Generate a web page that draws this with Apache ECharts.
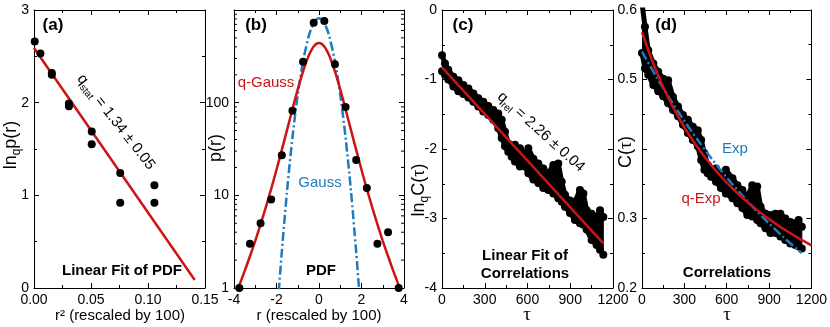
<!DOCTYPE html>
<html><head><meta charset="utf-8">
<script src="https://cdn.jsdelivr.net/npm/echarts@6/dist/echarts.min.js"></script>
<style>html,body{margin:0;padding:0;background:#fff}#c{width:830px;height:327px}</style>
</head><body><div id="c"></div>
<script>
// ---------- data ----------
// (a) linear fit of PDF
const aR2   = [0.000625, 0.005625, 0.015625, 0.015625, 0.030625, 0.030625, 0.050625, 0.050625, 0.075625, 0.075625, 0.105625, 0.105625];
const aLnqP = [2.66, 2.53, 2.32, 2.30, 1.99, 1.96, 1.69, 1.55, 1.24, 0.92, 1.11, 0.92];
const aFitX = [0, 0.141];
const aFitY = [2.59, 0.086];
// (b) PDF
const bR = [-3.75, -3.25, -2.75, -2.25, -1.75, -1.25, -0.75, -0.25, 0.25, 0.75, 1.25, 1.75, 2.25, 2.75, 3.25, 3.75];
const bP = [1, 3, 5, 9, 27, 82, 277, 729, 760, 259, 90, 24, 12, 3, 4, 1];
const bQgR = [-3.9, -3.8, -3.5, -3.25, -3, -2.75, -2.5, -2.25, -2, -1.75, -1.5, -1.25, -1, -0.75, -0.5, -0.375, -0.25, -0.125, 0, 0.125, 0.25, 0.375, 0.5, 0.75, 1, 1.25, 1.5, 1.75, 2, 2.25, 2.5, 2.75, 3, 3.25, 3.5, 3.8, 3.9];
const bQgP = [0.875, 1.0, 1.52, 2.2, 3.23, 4.87, 7.48, 11.75, 18.9, 30.9, 51.1, 85, 139, 218, 316, 363, 403, 431, 441, 431, 403, 363, 316, 218, 139, 85, 51.1, 30.9, 18.9, 11.75, 7.48, 4.87, 3.23, 2.2, 1.52, 1.0, 0.875];
const bGR = [-1.95, -1.875, -1.75, -1.5, -1.25, -1, -0.75, -0.5, -0.375, -0.25, -0.125, 0, 0.125, 0.25, 0.375, 0.5, 0.75, 1, 1.25, 1.5, 1.75, 1.875, 1.95];
const bGP = [0.6, 1.04, 2.45, 11.4, 42, 122, 280, 506, 623, 722, 789, 813, 789, 722, 623, 506, 280, 122, 42, 11.4, 2.45, 1.04, 0.6];
const bMinorTicks = [2, 3, 4, 5, 6, 7, 8, 9, 20, 30, 40, 50, 60, 70, 80, 90, 200, 300, 400, 500, 600, 700, 800, 900];
// (c) linear fit of correlations (band of data: upper / lower envelope)
const cTau = [0, 21, 44, 80, 115, 150, 185, 220, 255, 290, 325, 360, 395, 419, 442, 465, 489, 512, 547, 582, 606, 641, 676, 711, 746, 781, 816, 840, 863, 898, 933, 968, 992, 1015, 1050, 1085, 1109, 1132];
const cTop = [-0.65, -0.77, -0.86, -0.96, -1.01, -1.08, -1.13, -1.20, -1.27, -1.32, -1.38, -1.44, -1.49, -1.58, -1.75, -1.92, -1.97, -1.94, -1.99, -2.06, -1.99, -2.14, -2.21, -2.28, -2.35, -2.23, -2.21, -2.47, -2.66, -2.74, -2.76, -2.59, -2.64, -2.88, -2.93, -2.98, -2.88, -2.98];
const cBot = [-0.88, -0.93, -1.00, -1.10, -1.17, -1.21, -1.26, -1.32, -1.39, -1.46, -1.51, -1.58, -1.70, -1.84, -1.96, -2.04, -2.11, -2.18, -2.25, -2.25, -2.35, -2.44, -2.49, -2.56, -2.59, -2.64, -2.71, -2.76, -2.83, -2.92, -3.02, -3.07, -3.09, -3.16, -3.31, -3.38, -3.45, -3.52];
const cFitX = [0, 1132];
const cFitY = [-0.825, -3.357];
// (d) correlations
const dTau = [0, 21, 44, 80, 115, 150, 185, 220, 255, 290, 325, 360, 395, 419, 442, 465, 489, 524, 559, 594, 641, 676, 711, 746, 781, 816, 840, 875, 910, 945, 980, 1015, 1050, 1085, 1109, 1132];
const dTop = [0.61, 0.576, 0.542, 0.523, 0.511, 0.501, 0.499, 0.475, 0.461, 0.449, 0.442, 0.432, 0.427, 0.413, 0.394, 0.377, 0.370, 0.372, 0.365, 0.370, 0.358, 0.348, 0.341, 0.331, 0.348, 0.346, 0.317, 0.307, 0.305, 0.307, 0.307, 0.300, 0.295, 0.293, 0.298, 0.288];
const dBot = [0.538, 0.516, 0.507, 0.492, 0.483, 0.476, 0.466, 0.456, 0.447, 0.435, 0.423, 0.413, 0.404, 0.384, 0.370, 0.365, 0.360, 0.353, 0.344, 0.336, 0.329, 0.322, 0.315, 0.305, 0.303, 0.298, 0.293, 0.286, 0.279, 0.279, 0.274, 0.269, 0.264, 0.262, 0.260, 0.257];
const dQexpTau = [0, 100, 200, 300, 400, 500, 600, 700, 800, 900, 1000, 1100, 1200];
const dQexpC   = [0.568, 0.5125, 0.468, 0.4313, 0.4006, 0.3744, 0.3517, 0.332, 0.3146, 0.2991, 0.2852, 0.2728, 0.2614];
const dExpTau = [0, 100, 200, 300, 400, 500, 600, 700, 800, 900, 1000, 1100, 1130];
const dExpC   = [0.540, 0.5045, 0.4713, 0.4403, 0.4114, 0.3843, 0.3590, 0.3354, 0.3134, 0.2928, 0.2735, 0.2555, 0.2504];

// ---------- styling ----------
const FONT = "'Liberation Sans', Arial, Helvetica, sans-serif";
const RED = '#cc1414';
const BLUE = '#1e7bbf';
const zip = (a, b) => a.map((v, i) => [v, b[i]]);

const grids = [
  {left: 34, top: 10, width: 171, height: 278},
  {left: 234, top: 10, width: 170, height: 278},
  {left: 442, top: 10, width: 171, height: 278},
  {left: 642, top: 10, width: 171, height: 278}
];

function ax(grid, position, cfg, secondary) {
  return Object.assign({
    type: 'value', gridIndex: grid, position: position,
    axisLine: {show: true, onZero: false, lineStyle: {color: '#000', width: 1}},
    axisTick: {show: true, inside: true, length: 5, lineStyle: {color: '#000', width: 1}},
    minorTick: {show: true, splitNumber: 2, length: 3, lineStyle: {color: '#000', width: 1}},
    splitLine: {show: false}, minorSplitLine: {show: false},
    axisLabel: {show: !secondary, color: '#000', fontSize: 14, fontFamily: FONT, margin: 5},
    axisPointer: {show: false}
  }, cfg);
}

const plain = v => String(v);
const xCfg = [
  {min: 0, max: 0.15, interval: 0.05, axisLabelFmt: v => v.toFixed(2)},
  {min: -4, max: 4, interval: 2, axisLabelFmt: plain},
  {min: 0, max: 1200, interval: 300, axisLabelFmt: plain},
  {min: 0, max: 1200, interval: 300, axisLabelFmt: plain}
];
const yCfg = [
  {min: 0, max: 3, interval: 1, axisLabelFmt: plain},
  {type: 'log', logBase: 10, min: 1, max: 1000, minorTick: {show: false}, axisLabelFmt: v => (v >= 1000 ? '' : String(v))},
  {min: -4, max: 0, interval: 1, axisLabelFmt: plain},
  {min: 0.2, max: 0.6, interval: 0.1, axisLabelFmt: v => (Math.abs(v - 0.4) < 1e-6 ? '' : v.toFixed(1))}
];

const xAxis = [], yAxis = [];
function build(cfgs, arr, pos1, pos2) {
  [false, true].forEach(sec => {
    cfgs.forEach((c, g) => {
      const cc = Object.assign({}, c);
      const fmt = cc.axisLabelFmt; delete cc.axisLabelFmt;
      const mt = cc.minorTick; delete cc.minorTick;
      const a = ax(g, sec ? pos2 : pos1, cc, sec);
      if (mt) a.minorTick = Object.assign({}, a.minorTick, mt);
      if (fmt) a.axisLabel.formatter = fmt;
      arr.push(a);
    });
  });
}
build(xCfg, xAxis, 'bottom', 'top');
build(yCfg, yAxis, 'left', 'right');

const dashDot = [9, 3, 2, 3];
const dot = {color: '#000', opacity: 1};

// band: filled polygon between lower and upper envelope, built through the axes' scales
function bandSeries(gi, tau, bot, top) {
  const segs = tau.slice(0, -1).map((t, i) => [t, bot[i], top[i], tau[i + 1], bot[i + 1], top[i + 1]]);
  return {
    type: 'custom', xAxisIndex: gi, yAxisIndex: gi, silent: true, z: 2,
    data: segs,
    renderItem: function (params, api) {
      const cs = params.coordSys;
      const p1 = api.coord([api.value(0), api.value(1)]);
      const p2 = api.coord([api.value(3), api.value(4)]);
      const p3 = api.coord([api.value(3), api.value(5)]);
      const p4 = api.coord([api.value(0), api.value(2)]);
      return {type: 'polygon', shape: {points: [p1, p2, p3, p4]},
              style: {fill: '#000', stroke: '#000', lineWidth: 1},
              clipPath: {type: 'rect', shape: {x: cs.x, y: cs.y, width: cs.width, height: cs.height}}};
    }
  };
}
function edgeSeries(gi, tau, vals) {
  return {type: 'line', xAxisIndex: gi, yAxisIndex: gi, data: zip(tau, vals),
    symbol: 'circle', symbolSize: 8, showAllSymbol: true, clip: true,
    itemStyle: dot, lineStyle: {color: '#000', width: 5}, z: 2};
}

const series = [
  // (a)
  {type: 'line', xAxisIndex: 0, yAxisIndex: 0, data: zip(aFitX, aFitY), symbol: 'none',
   lineStyle: {color: RED, width: 2.5}, z: 3},
  {type: 'scatter', xAxisIndex: 0, yAxisIndex: 0, data: zip(aR2, aLnqP), symbolSize: 8,
   itemStyle: dot, z: 4},
  // (b)
  {type: 'line', xAxisIndex: 1, yAxisIndex: 1, data: zip(bGR, bGP), symbol: 'none', smooth: 0.3,
   lineStyle: {color: BLUE, width: 2.5, type: dashDot}, z: 3},
  {type: 'line', xAxisIndex: 1, yAxisIndex: 1, data: zip(bQgR, bQgP), symbol: 'none', smooth: 0.3,
   lineStyle: {color: RED, width: 2.5}, z: 3},
  {type: 'scatter', xAxisIndex: 1, yAxisIndex: 1, data: zip(bR, bP), symbolSize: 8,
   itemStyle: dot, z: 4},
  {type: 'custom', xAxisIndex: 1, yAxisIndex: 1, silent: true, z: 6,
   data: bMinorTicks.map(v => [0, v]),
   renderItem: function (params, api) {
     const cs = params.coordSys;
     const y = api.coord([0, api.value(1)])[1];
     return {type: 'group', children: [
       {type: 'line', shape: {x1: cs.x, y1: y, x2: cs.x + 3, y2: y}, style: {stroke: '#000', lineWidth: 1}},
       {type: 'line', shape: {x1: cs.x + cs.width - 3, y1: y, x2: cs.x + cs.width, y2: y}, style: {stroke: '#000', lineWidth: 1}}
     ]};
   }},
  // (c)
  bandSeries(2, cTau, cBot, cTop),
  edgeSeries(2, cTau, cTop),
  edgeSeries(2, cTau, cBot),
  {type: 'line', xAxisIndex: 2, yAxisIndex: 2, data: zip(cFitX, cFitY), symbol: 'none',
   lineStyle: {color: RED, width: 2.5}, z: 3},
  // (d)
  bandSeries(3, dTau, dBot, dTop),
  edgeSeries(3, dTau, dTop),
  edgeSeries(3, dTau, dBot),
  {type: 'line', xAxisIndex: 3, yAxisIndex: 3, data: zip(dExpTau, dExpC), symbol: 'none', smooth: 0.3,
   lineStyle: {color: BLUE, width: 2.5, type: dashDot}, z: 3},
  {type: 'line', xAxisIndex: 3, yAxisIndex: 3, data: zip(dQexpTau, dQexpC), symbol: 'none', smooth: 0.3,
   lineStyle: {color: RED, width: 2.5}, z: 3}
];

// ---------- texts ----------
function rich(size, color) {
  return {
    m: {fontSize: size, fontFamily: FONT, fill: color, lineHeight: Math.round(size * 1.3), verticalAlign: 'middle'},
    s: {fontSize: Math.round(size * 0.66), fontFamily: FONT, fill: color, verticalAlign: 'bottom'},
    t: {fontSize: size, fontFamily: "'Liberation Serif', 'DejaVu Serif', serif", fill: color, verticalAlign: 'middle'}
  };
}
function rtext(x, y, text, size, rot, color) {
  return {type: 'text', x: x, y: y, rotation: rot || 0, z: 10,
    style: {text: text, rich: rich(size, color || '#000'), align: 'center', verticalAlign: 'middle'}};
}
function ptext(x, y, text, size, bold, color) {
  return {type: 'text', x: x, y: y, z: 10,
    style: {text: text, fontSize: size, fontWeight: bold ? 'bold' : 'normal', fontFamily: FONT,
            fill: color || '#000', align: 'center', verticalAlign: 'middle'}};
}
const deg = Math.PI / 180;
const graphic = [
  ptext(53, 25, '(a)', 17, true), ptext(256, 25, '(b)', 17, true),
  ptext(463, 25, '(c)', 17, true), ptext(666, 25, '(d)', 17, true),
  ptext(122, 271, 'Linear Fit of PDF', 15, true),
  ptext(321, 271, 'PDF', 15, true),
  ptext(525, 256, 'Linear Fit of', 15, true),
  ptext(525, 274, 'Correlations', 15, true),
  ptext(727, 273, 'Correlations', 15, true),
  ptext(266, 83, 'q-Gauss', 15, false, RED),
  ptext(320, 183, 'Gauss', 15, false, BLUE),
  ptext(735, 149, 'Exp', 15, false, BLUE),
  ptext(701, 199, 'q-Exp', 15, false, RED),
  rtext(116, 122, '{m|q}{s|stat}{m| = 1.34 ± 0.05}', 15, -52 * deg),
  rtext(541, 132, '{m|q}{s|rel}{m| = 2.26 ± 0.04}', 15, -42 * deg),
  // axis titles
  rtext(11, 145, '{m|ln}{s|q}{m|p(r)}', 18, 90 * deg),
  rtext(216, 148, '{m|p(r)}', 18, 90 * deg),
  rtext(419, 190, '{m|ln}{s|q}{m|C(}{t|τ}{m|)}', 18, 90 * deg),
  rtext(626, 152, '{m|C(}{t|τ}{m|)}', 18, 90 * deg),
  ptext(120, 316, 'r² (rescaled by 100)', 15),
  ptext(319, 316, 'r (rescaled by 100)', 15),
  rtext(527, 315, '{t|τ}', 19),
  rtext(727, 315, '{t|τ}', 19)
];

const chart = echarts.init(document.getElementById('c'), null, {renderer: 'canvas'});
chart.setOption({
  animation: false,
  backgroundColor: '#fff',
  grid: grids,
  xAxis: xAxis,
  yAxis: yAxis,
  series: series,
  graphic: graphic
});
</script>
</body></html>
